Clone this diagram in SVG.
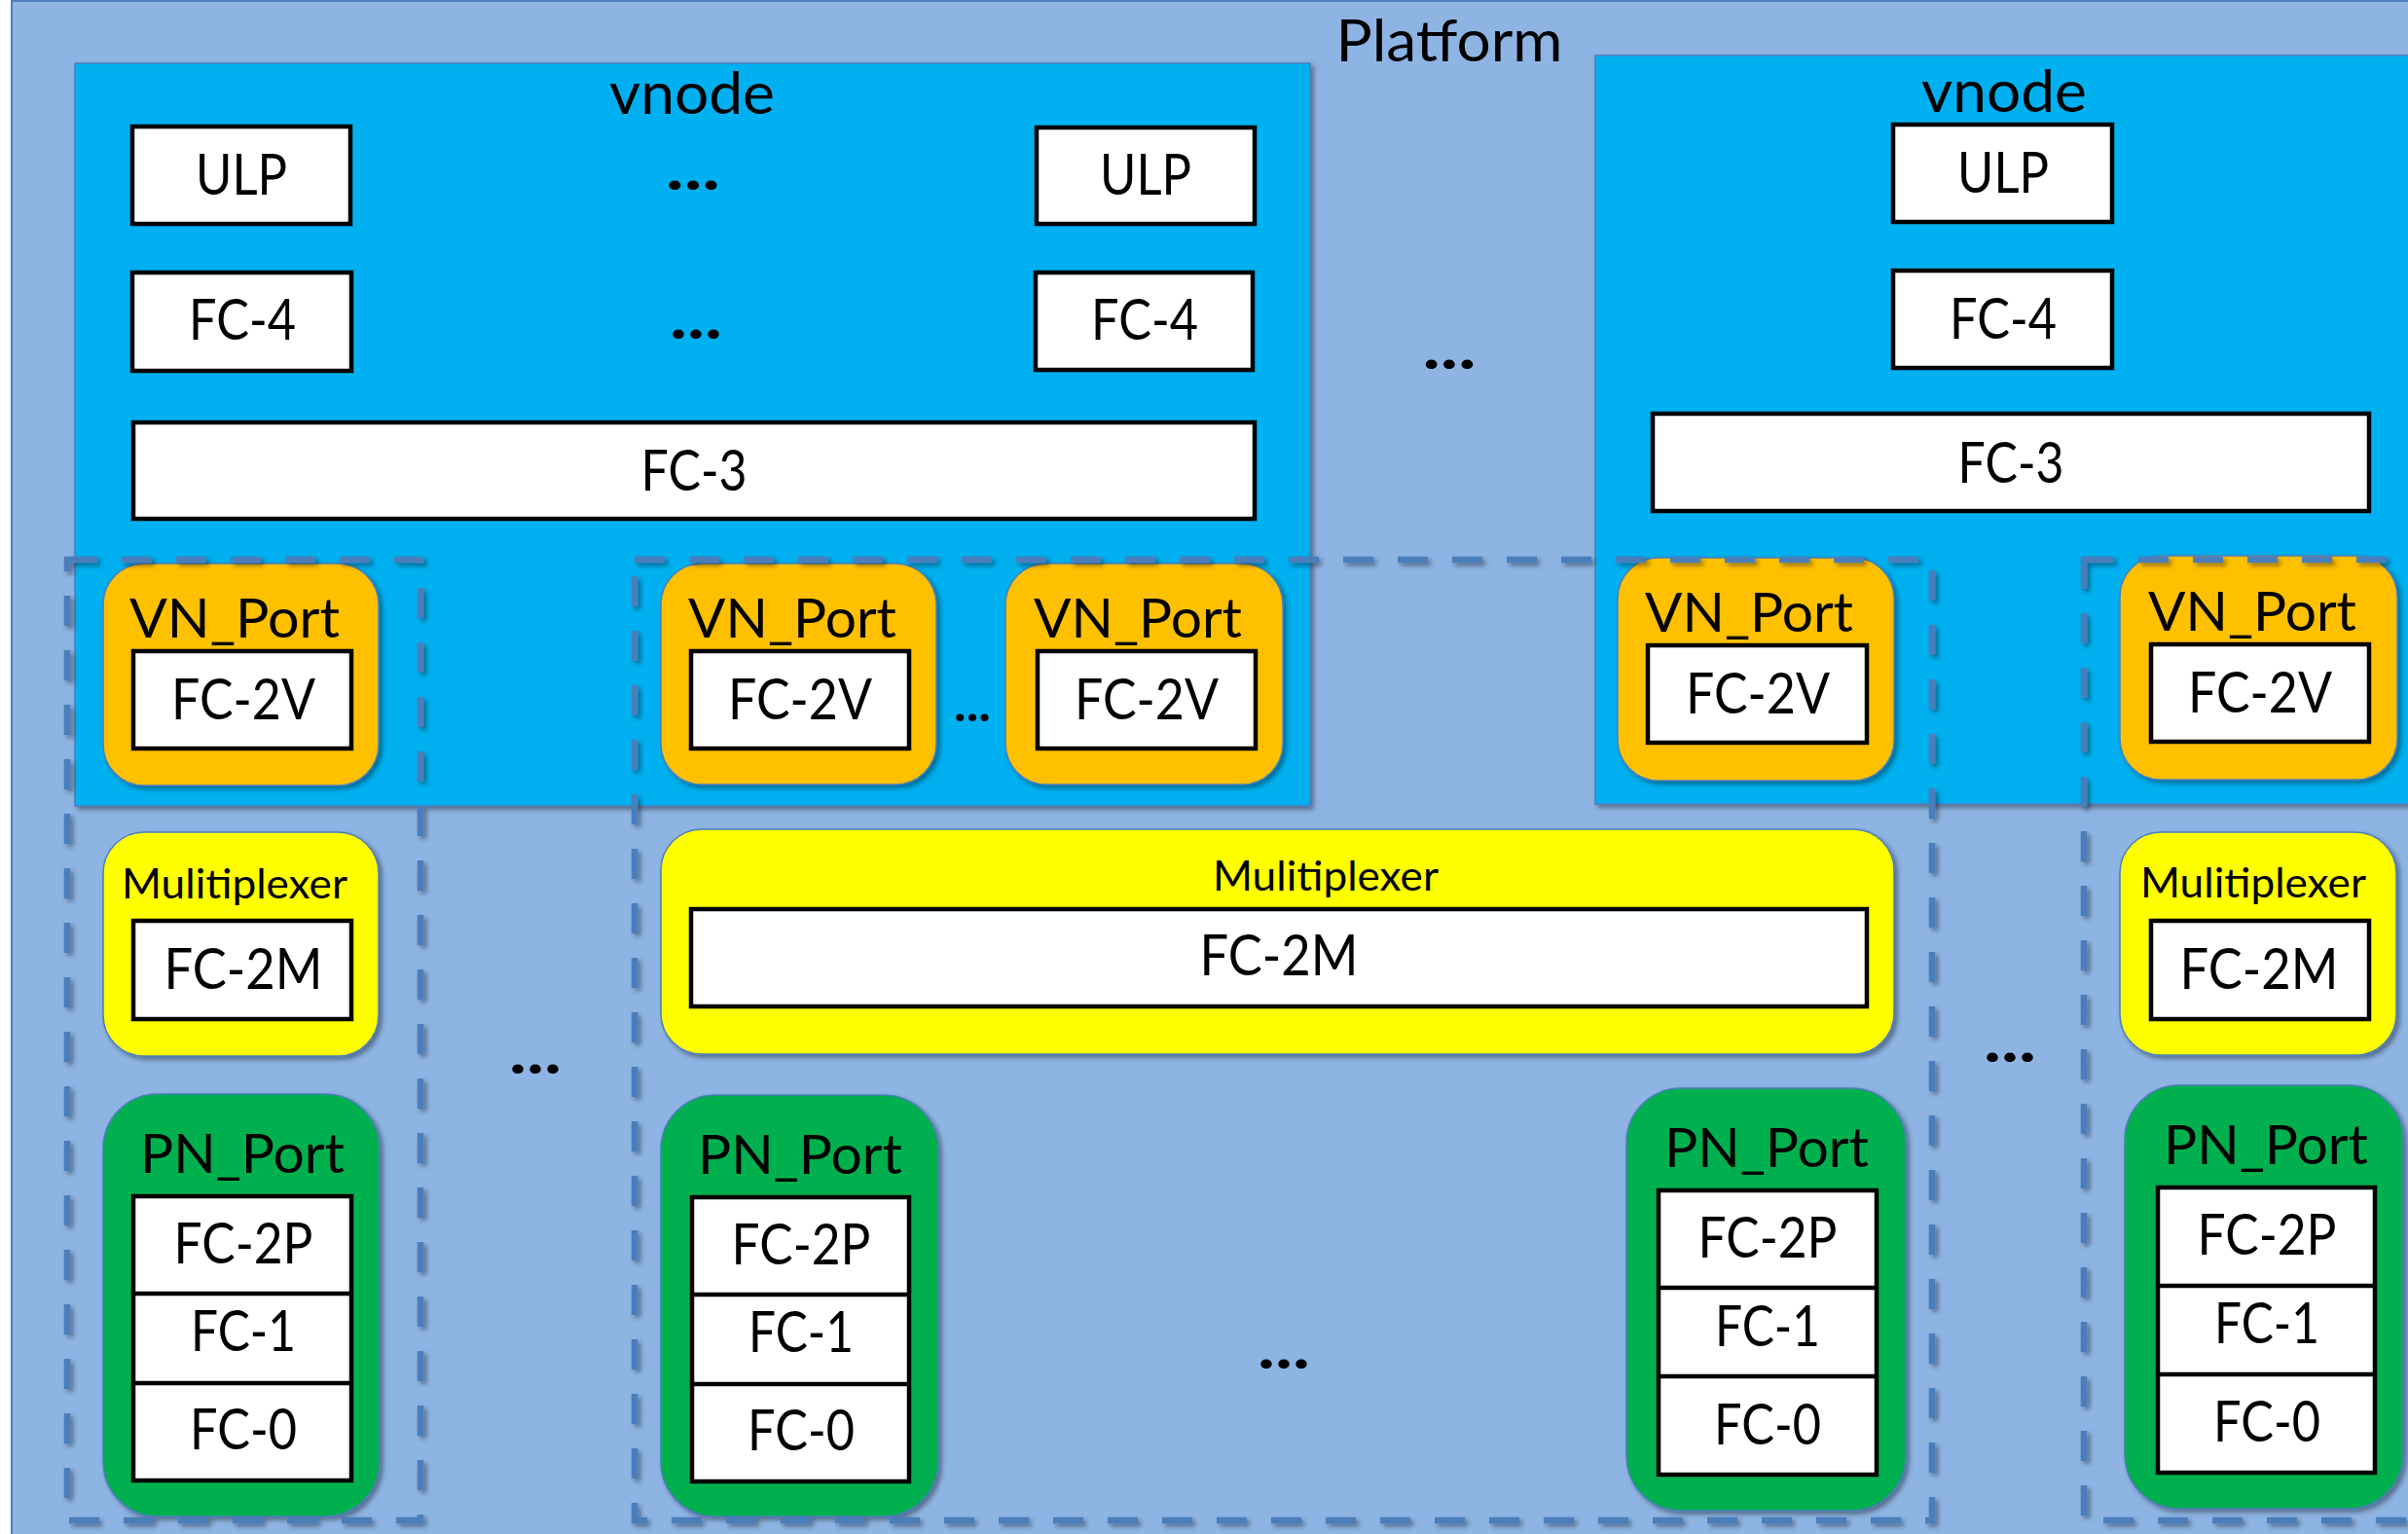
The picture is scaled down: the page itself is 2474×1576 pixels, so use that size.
<svg xmlns="http://www.w3.org/2000/svg" width="2474" height="1576" viewBox="0 0 2474 1576">
  <defs>
    <filter id="sh" x="-10%" y="-10%" width="125%" height="125%">
      <feDropShadow dx="3" dy="3" stdDeviation="2.5" flood-color="#000" flood-opacity="0.4"/>
    </filter>
    <style>
      .t { font-family: Lato, "Open Sans", "Liberation Sans", sans-serif; fill: #000; text-anchor: middle; }
      .lbl { font-size: 58px; }
      .title { font-size: 60px; }
      .port { font-size: 56px; }
      .mux { font-size: 43px; }
      .dots { font-size: 64px; font-weight: bold; }
      .box { fill: #fff; stroke: #000; stroke-width: 4.5; }
      .div { stroke: #000; stroke-width: 4.5; }
      .vnode { fill: #00B0F0; stroke: #4A7EBB; stroke-width: 1.5; filter: url(#sh); }
      .vnp { fill: #FFC000; stroke: #4A7EBB; stroke-width: 1.5; filter: url(#sh); }
      .mx { fill: #FFFF00; stroke: #4A7EBB; stroke-width: 1.5; filter: url(#sh); }
      .pnp { fill: #00B050; stroke: #4A7EBB; stroke-width: 1.5; filter: url(#sh); }
      .grp { fill: none; stroke: #4A7EBB; stroke-width: 6.5; stroke-dasharray: 31 25; filter: url(#sh); }
    </style>
  </defs>

  <rect x="0" y="0" width="2474" height="1576" fill="#fff"/>

  <!-- Platform -->
  <g id="platform">
    <rect x="12" y="1" width="2500" height="1600" fill="#8EB4E3" stroke="#4A7EBB" stroke-width="2"/>
    <text class="t title" x="1489" y="63" textLength="233" lengthAdjust="spacingAndGlyphs">Platform</text>
  </g>

  <!-- vnode 1 -->
  <g id="vnode-1">
    <rect class="vnode" x="77" y="65" width="1269" height="763"/>
    <text class="t title" x="711" y="117" textLength="170" lengthAdjust="spacingAndGlyphs">vnode</text>
    <rect class="box" x="136" y="130" width="224" height="100"/>
    <text class="t lbl" x="248" y="200" textLength="94" lengthAdjust="spacingAndGlyphs">ULP</text>
    <rect class="box" x="1065" y="131" width="224" height="99"/>
    <text class="t lbl" x="1177" y="200" textLength="94" lengthAdjust="spacingAndGlyphs">ULP</text>
    <rect class="box" x="136" y="280" width="225" height="101"/>
    <text class="t lbl" x="249" y="349" textLength="110" lengthAdjust="spacingAndGlyphs">FC-4</text>
    <rect class="box" x="1064" y="280" width="223" height="100"/>
    <text class="t lbl" x="1176" y="349" textLength="110" lengthAdjust="spacingAndGlyphs">FC-4</text>
    <rect class="box" x="137" y="434" width="1152" height="99"/>
    <text class="t lbl" x="713" y="504" textLength="109" lengthAdjust="spacingAndGlyphs">FC-3</text>
    <text class="t dots" x="712" y="195" textLength="56" lengthAdjust="spacingAndGlyphs">...</text>
    <text class="t dots" x="715" y="348" textLength="54" lengthAdjust="spacingAndGlyphs">...</text>
  </g>

  <!-- vnode 2 -->
  <g id="vnode-2">
    <rect class="vnode" x="1639" y="57" width="900" height="769"/>
    <text class="t title" x="2059" y="115" textLength="170" lengthAdjust="spacingAndGlyphs">vnode</text>
    <rect class="box" x="1945" y="128" width="225" height="100"/>
    <text class="t lbl" x="2058" y="198" textLength="94" lengthAdjust="spacingAndGlyphs">ULP</text>
    <rect class="box" x="1945" y="278" width="225" height="100"/>
    <text class="t lbl" x="2058" y="348" textLength="110" lengthAdjust="spacingAndGlyphs">FC-4</text>
    <rect class="box" x="1698" y="425" width="736" height="100"/>
    <text class="t lbl" x="2066" y="496" textLength="109" lengthAdjust="spacingAndGlyphs">FC-3</text>
  </g>

  <text class="t dots" x="1489" y="379" textLength="55" lengthAdjust="spacingAndGlyphs">...</text>

  <!-- VN_Ports -->
  <g id="vn-port-1">
    <rect class="vnp" x="106" y="579" width="283" height="228" rx="42"/>
    <text class="t port" x="241" y="655" textLength="216" lengthAdjust="spacingAndGlyphs">VN_Port</text>
    <rect class="box" x="137" y="669" width="224" height="100"/>
    <text class="t lbl" x="250" y="739" textLength="148" lengthAdjust="spacingAndGlyphs">FC-2V</text>
  </g>
  <g id="vn-port-2">
    <rect class="vnp" x="679" y="579" width="283" height="227" rx="42"/>
    <text class="t port" x="814" y="655" textLength="214" lengthAdjust="spacingAndGlyphs">VN_Port</text>
    <rect class="box" x="710" y="669" width="224" height="100"/>
    <text class="t lbl" x="822" y="739" textLength="148" lengthAdjust="spacingAndGlyphs">FC-2V</text>
  </g>
  <text class="t dots" x="999" y="741" style="font-size:50px" textLength="38" lengthAdjust="spacingAndGlyphs">...</text>
  <g id="vn-port-3">
    <rect class="vnp" x="1033" y="579" width="285" height="227" rx="42"/>
    <text class="t port" x="1169" y="655" textLength="214" lengthAdjust="spacingAndGlyphs">VN_Port</text>
    <rect class="box" x="1066" y="669" width="224" height="100"/>
    <text class="t lbl" x="1178" y="739" textLength="148" lengthAdjust="spacingAndGlyphs">FC-2V</text>
  </g>
  <g id="vn-port-4">
    <rect class="vnp" x="1662" y="573" width="284" height="229" rx="42"/>
    <text class="t port" x="1797" y="649" textLength="214" lengthAdjust="spacingAndGlyphs">VN_Port</text>
    <rect class="box" x="1693" y="663" width="225" height="100"/>
    <text class="t lbl" x="1806" y="733" textLength="148" lengthAdjust="spacingAndGlyphs">FC-2V</text>
  </g>
  <g id="vn-port-5">
    <rect class="vnp" x="2178" y="571" width="285" height="230" rx="42"/>
    <text class="t port" x="2314" y="648" textLength="214" lengthAdjust="spacingAndGlyphs">VN_Port</text>
    <rect class="box" x="2210" y="662" width="224" height="100"/>
    <text class="t lbl" x="2322" y="732" textLength="148" lengthAdjust="spacingAndGlyphs">FC-2V</text>
  </g>

  <!-- Multiplexers -->
  <g id="mux-1">
    <rect class="mx" x="106" y="855" width="283" height="230" rx="42"/>
    <text class="t mux" x="241" y="923" textLength="232" lengthAdjust="spacingAndGlyphs">Mulitiplexer</text>
    <rect class="box" x="137" y="946" width="224" height="101"/>
    <text class="t lbl" x="250" y="1016" textLength="163" lengthAdjust="spacingAndGlyphs">FC-2M</text>
  </g>
  <g id="mux-2">
    <rect class="mx" x="679" y="852" width="1267" height="231" rx="42"/>
    <text class="t mux" x="1362" y="915" textLength="232" lengthAdjust="spacingAndGlyphs">Mulitiplexer</text>
    <rect class="box" x="710" y="934" width="1208" height="100"/>
    <text class="t lbl" x="1314" y="1002" textLength="163" lengthAdjust="spacingAndGlyphs">FC-2M</text>
  </g>
  <g id="mux-3">
    <rect class="mx" x="2178" y="855" width="284" height="229" rx="42"/>
    <text class="t mux" x="2315" y="922" textLength="232" lengthAdjust="spacingAndGlyphs">Mulitiplexer</text>
    <rect class="box" x="2210" y="946" width="224" height="101"/>
    <text class="t lbl" x="2321" y="1016" textLength="163" lengthAdjust="spacingAndGlyphs">FC-2M</text>
  </g>

  <text class="t dots" x="550" y="1103" textLength="54" lengthAdjust="spacingAndGlyphs">...</text>
  <text class="t dots" x="2065" y="1091" textLength="54" lengthAdjust="spacingAndGlyphs">...</text>
  <text class="t dots" x="1319" y="1406" textLength="54" lengthAdjust="spacingAndGlyphs">...</text>

  <!-- PN_Ports -->
  <g id="pn-port-1">
    <rect class="pnp" x="106" y="1124" width="284" height="434" rx="56"/>
    <text class="t port" x="249" y="1205" textLength="210" lengthAdjust="spacingAndGlyphs">PN_Port</text>
    <rect class="box" x="137" y="1229" width="224" height="292"/>
    <line class="div" x1="137" y1="1329" x2="361" y2="1329"/>
    <line class="div" x1="137" y1="1421" x2="361" y2="1421"/>
    <text class="t lbl" x="250" y="1298" textLength="143" lengthAdjust="spacingAndGlyphs">FC-2P</text>
    <text class="t lbl" x="250" y="1388" textLength="108" lengthAdjust="spacingAndGlyphs">FC-1</text>
    <text class="t lbl" x="250" y="1489" textLength="110" lengthAdjust="spacingAndGlyphs">FC-0</text>
  </g>
  <g id="pn-port-2">
    <rect class="pnp" x="679" y="1125" width="285" height="433" rx="56"/>
    <text class="t port" x="822" y="1206" textLength="210" lengthAdjust="spacingAndGlyphs">PN_Port</text>
    <rect class="box" x="711" y="1230" width="223" height="292"/>
    <line class="div" x1="711" y1="1330" x2="934" y2="1330"/>
    <line class="div" x1="711" y1="1422" x2="934" y2="1422"/>
    <text class="t lbl" x="823" y="1299" textLength="143" lengthAdjust="spacingAndGlyphs">FC-2P</text>
    <text class="t lbl" x="823" y="1389" textLength="108" lengthAdjust="spacingAndGlyphs">FC-1</text>
    <text class="t lbl" x="823" y="1490" textLength="110" lengthAdjust="spacingAndGlyphs">FC-0</text>
  </g>
  <g id="pn-port-3">
    <rect class="pnp" x="1671" y="1118" width="287" height="434" rx="56"/>
    <text class="t port" x="1815" y="1199" textLength="210" lengthAdjust="spacingAndGlyphs">PN_Port</text>
    <rect class="box" x="1704" y="1223" width="224" height="292"/>
    <line class="div" x1="1704" y1="1323" x2="1928" y2="1323"/>
    <line class="div" x1="1704" y1="1414" x2="1928" y2="1414"/>
    <text class="t lbl" x="1816" y="1292" textLength="143" lengthAdjust="spacingAndGlyphs">FC-2P</text>
    <text class="t lbl" x="1816" y="1383" textLength="108" lengthAdjust="spacingAndGlyphs">FC-1</text>
    <text class="t lbl" x="1816" y="1484" textLength="110" lengthAdjust="spacingAndGlyphs">FC-0</text>
  </g>
  <g id="pn-port-4">
    <rect class="pnp" x="2183" y="1115" width="286" height="435" rx="56"/>
    <text class="t port" x="2328" y="1196" textLength="210" lengthAdjust="spacingAndGlyphs">PN_Port</text>
    <rect class="box" x="2217" y="1220" width="223" height="293"/>
    <line class="div" x1="2217" y1="1321" x2="2440" y2="1321"/>
    <line class="div" x1="2217" y1="1412" x2="2440" y2="1412"/>
    <text class="t lbl" x="2329" y="1289" textLength="143" lengthAdjust="spacingAndGlyphs">FC-2P</text>
    <text class="t lbl" x="2329" y="1380" textLength="108" lengthAdjust="spacingAndGlyphs">FC-1</text>
    <text class="t lbl" x="2329" y="1481" textLength="110" lengthAdjust="spacingAndGlyphs">FC-0</text>
  </g>

  <!-- dashed port-group outlines, drawn above the ports -->
  <g id="port-groups">
    <rect class="grp" x="69" y="575" width="363" height="987"/>
    <rect class="grp" x="652" y="575" width="1333" height="987"/>
    <rect class="grp" x="2141" y="575" width="400" height="987"/>
  </g>
</svg>
